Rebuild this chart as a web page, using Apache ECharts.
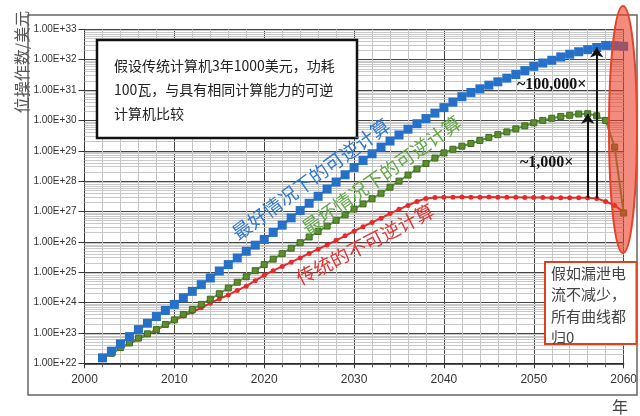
<!DOCTYPE html>
<html>
<head>
<meta charset="utf-8">
<script src="https://cdn.jsdelivr.net/npm/echarts@6/dist/echarts.min.js"></script>
<style>
  html, body { margin: 0; padding: 0; background: #fff; }
  #chart { width: 640px; height: 416px; }
</style>
</head>
<body>
<div id="chart"></div>
<script>
// Years plotted (one point per year)
const years = [
  2002, 2003, 2004, 2005, 2006, 2007, 2008, 2009, 2010, 2011,
  2012, 2013, 2014, 2015, 2016, 2017, 2018, 2019, 2020, 2021,
  2022, 2023, 2024, 2025, 2026, 2027, 2028, 2029, 2030, 2031,
  2032, 2033, 2034, 2035, 2036, 2037, 2038, 2039, 2040, 2041,
  2042, 2043, 2044, 2045, 2046, 2047, 2048, 2049, 2050, 2051,
  2052, 2053, 2054, 2055, 2056, 2057, 2058, 2059, 2060
];

// log10 of bit operations per dollar
const bestReversible = [
  22.18, 22.40, 22.64, 22.88, 23.11, 23.32, 23.54, 23.74, 23.94, 24.16,
  24.37, 24.59, 24.81, 25.04, 25.25, 25.47, 25.69, 25.89, 26.08, 26.31,
  26.55, 26.79, 27.03, 27.27, 27.50, 27.74, 27.97, 28.21, 28.45, 28.68,
  28.90, 29.12, 29.32, 29.52, 29.71, 29.89, 30.06, 30.24, 30.42, 30.60,
  30.78, 30.92, 31.04, 31.16, 31.27, 31.39, 31.51, 31.64, 31.78, 31.89,
  31.98, 32.09, 32.18, 32.26, 32.33, 32.40, 32.47, 32.46, 32.44
];
const worstReversible = [
  22.18, 22.33, 22.52, 22.67, 22.83, 22.97, 23.11, 23.28, 23.43, 23.61,
  23.77, 23.94, 24.11, 24.29, 24.48, 24.67, 24.85, 25.05, 25.25, 25.43,
  25.61, 25.79, 25.97, 26.16, 26.34, 26.52, 26.71, 26.89, 27.08, 27.25,
  27.42, 27.60, 27.80, 28.00, 28.20, 28.40, 28.58, 28.76, 28.93, 29.05,
  29.15, 29.24, 29.34, 29.44, 29.53, 29.62, 29.72, 29.82, 29.92, 30.00,
  30.07, 30.13, 30.17, 30.21, 30.22, 30.15, 30.00, 29.12, 26.95
];
const conventional = [
  22.18, 22.31, 22.50, 22.65, 22.80, 22.95, 23.10, 23.26, 23.41, 23.56,
  23.69, 23.83, 23.98, 24.12, 24.25, 24.40, 24.54, 24.72, 24.90, 25.05,
  25.19, 25.33, 25.47, 25.62, 25.76, 25.90, 26.05, 26.20, 26.35, 26.50,
  26.64, 26.78, 26.93, 27.07, 27.20, 27.33, 27.43, 27.46, 27.47, 27.47,
  27.48, 27.47, 27.47, 27.48, 27.47, 27.47, 27.47, 27.46, 27.46, 27.46,
  27.45, 27.45, 27.45, 27.45, 27.45, 27.43, 27.33, 27.20, 26.98
];

// Axis settings
const yExpMin = 22, yExpMax = 33;
const xMin = 2000, xMax = 2060;
const yTickLabel = exp => '1.00E+' + exp;

// Gap arrows: year where each arrow stands
const gapBestYear = 2057;
const gapWorstYear = 2056;

const toPoints = arr => years.map((y, i) => [y, Math.pow(10, arr[i])]);

// Minor (2..9) horizontal gridlines of the log scale
const minorLines = [];
for (let e = yExpMin; e < yExpMax; e++) {
  for (let m = 2; m <= 9; m++) minorLines.push({ yAxis: m * Math.pow(10, e) });
}

const iBest = years.indexOf(gapBestYear);
const iWorst = years.indexOf(gapWorstYear);

const chart = echarts.init(document.getElementById('chart'), null, { renderer: 'canvas' });

const CJK = '"Noto Sans CJK SC", sans-serif';

chart.setOption({
  animation: false,
  backgroundColor: '#fff',
  grid: { left: 84.5, right: 16, top: 29.3, bottom: 52.7, containLabel: false },
  xAxis: {
    type: 'value', min: xMin, max: xMax, interval: 10,
    axisLine: { lineStyle: { color: '#222', width: 1.5 } },
    axisTick: { show: true, length: 5, lineStyle: { color: '#333' } },
    minorTick: { show: true, splitNumber: 5, length: 4, lineStyle: { color: '#555' } },
    axisLabel: {
      fontSize: 12, color: '#333', margin: 10,
      fontFamily: '"Liberation Sans", Arial, sans-serif',
      formatter: v => String(v)
    },
    splitLine: { show: true, lineStyle: { color: '#444', width: 1 } },
    minorSplitLine: { show: true, lineStyle: { color: '#c4c4c4', width: 1 } }
  },
  yAxis: {
    type: 'log', logBase: 10,
    min: Math.pow(10, yExpMin), max: Math.pow(10, yExpMax),
    interval: 1, splitNumber: 11,
    axisLine: { show: true, lineStyle: { color: '#333', width: 1 } },
    axisTick: { show: true, length: 6, lineStyle: { color: '#333' } },
    axisLabel: {
      fontSize: 10, color: '#333', margin: 8,
      fontFamily: '"Liberation Sans", Arial, sans-serif',
      formatter: v => yTickLabel(Math.round(Math.log10(v)))
    },
    splitLine: { show: true, lineStyle: { color: '#444', width: 1 } }
  },
  series: [
    {
      type: 'line', data: [], z: 1, silent: true,
      markLine: {
        z: 1, silent: true, symbol: 'none', animation: false,
        label: { show: false },
        lineStyle: { color: '#c8c8c8', width: 1, type: 'solid' },
        emphasis: { disabled: true },
        data: minorLines
      }
    },
    {
      name: '传统的不可逆计算', type: 'line', z: 2,
      data: toPoints(conventional),
      symbol: 'circle', symbolSize: 5,
      lineStyle: { color: '#e62a2a', width: 2 },
      itemStyle: { color: '#e62a2a' }
    },
    {
      name: '最坏情况下的可逆计算', type: 'line', z: 3,
      data: toPoints(worstReversible),
      symbol: 'rect', symbolSize: 6,
      lineStyle: { color: '#48a03c', width: 2 },
      itemStyle: { color: '#5e8c2e', borderColor: '#3e6a1c', borderWidth: 1 }
    },
    {
      name: '最好情况下的可逆计算', type: 'line', z: 4,
      data: toPoints(bestReversible),
      symbol: 'rect', symbolSize: 9,
      lineStyle: { color: '#2670c8', width: 2 },
      itemStyle: { color: '#2670c8' }
    },
    {
      type: 'line', data: [], z: 6, silent: true,
      markLine: {
        z: 6, silent: true, animation: false,
        symbol: ['none', 'arrow'], symbolSize: 10,
        label: { show: false },
        lineStyle: { color: '#111', width: 2, type: 'solid' },
        emphasis: { disabled: true },
        data: [
          [
            { coord: [gapBestYear, Math.pow(10, conventional[iBest])] },
            { coord: [gapBestYear, Math.pow(10, bestReversible[iBest])] }
          ],
          [
            { coord: [gapWorstYear, Math.pow(10, conventional[iWorst])] },
            { coord: [gapWorstYear, Math.pow(10, worstReversible[iWorst])] }
          ]
        ]
      }
    }
  ],
  graphic: [
    {
      type: 'rect', z: 100, silent: true,
      shape: { x: 28, y: 15, width: 609, height: 380 },
      style: { fill: 'none', stroke: '#666', lineWidth: 1.5 }
    },
    {
      type: 'text', z: 100, silent: true, x: 22, y: 62, rotation: Math.PI / 2,
      style: { text: '位操作数/美元', font: '16px ' + CJK, fill: '#555', align: 'center', verticalAlign: 'middle' }
    },
    {
      type: 'text', z: 100, silent: true, x: 620, y: 407,
      style: { text: '年', font: '16px ' + CJK, fill: '#444', align: 'center', verticalAlign: 'middle' }
    },
    {
      type: 'rect', z: 100, silent: true,
      shape: { x: 97, y: 40, width: 260, height: 98 },
      style: { fill: '#fff', stroke: '#111', lineWidth: 2.5 }
    },
    {
      type: 'text', z: 101, silent: true, x: 114, y: 54,
      style: {
        text: '假设传统计算机3年1000美元，功耗\n100瓦，与具有相同计算能力的可逆\n计算机比较',
        font: '14px ' + CJK, fill: '#222', lineHeight: 24, align: 'left', verticalAlign: 'top'
      }
    },
    {
      type: 'text', z: 100, silent: true, x: 311, y: 179, rotation: 36.2 * Math.PI / 180,
      style: { text: '最好情况下的可逆计算', font: '19px ' + CJK, fill: '#2f78d0', align: 'center', verticalAlign: 'middle' }
    },
    {
      type: 'text', z: 100, silent: true, x: 381.5, y: 175, rotation: 35.3 * Math.PI / 180,
      style: { text: '最坏情况下的可逆计算', font: '19px ' + CJK, fill: '#62a848', align: 'center', verticalAlign: 'middle' }
    },
    {
      type: 'text', z: 100, silent: true, x: 365, y: 244, rotation: 27.4 * Math.PI / 180,
      style: { text: '传统的不可逆计算', font: '19px ' + CJK, fill: '#e43434', align: 'center', verticalAlign: 'middle' }
    },
    {
      type: 'text', z: 100, silent: true, x: 517, y: 85,
      style: { text: '~100,000×', font: 'bold 16px "Liberation Serif", serif', fill: '#111', align: 'left', verticalAlign: 'middle' }
    },
    {
      type: 'text', z: 100, silent: true, x: 520, y: 163,
      style: { text: '~1,000×', font: 'bold 16px "Liberation Serif", serif', fill: '#111', align: 'left', verticalAlign: 'middle' }
    },
    {
      type: 'ellipse', z: 102, silent: true,
      shape: { cx: 623, cy: 129.5, rx: 14, ry: 123.5 },
      style: { fill: 'rgba(232,64,40,0.6)', stroke: '#e8412a', lineWidth: 2 }
    },
    {
      type: 'rect', z: 100, silent: true,
      shape: { x: 545, y: 262, width: 91.5, height: 82 },
      style: { fill: '#fff', stroke: '#e0401e', lineWidth: 2 }
    },
    {
      type: 'text', z: 101, silent: true, x: 551, y: 262.5,
      style: {
        text: '假如漏泄电\n流不减少，\n所有曲线都\n归0',
        font: '15px ' + CJK, fill: '#444', lineHeight: 21.5, align: 'left', verticalAlign: 'top'
      }
    }
  ]
});
</script>
</body>
</html>
